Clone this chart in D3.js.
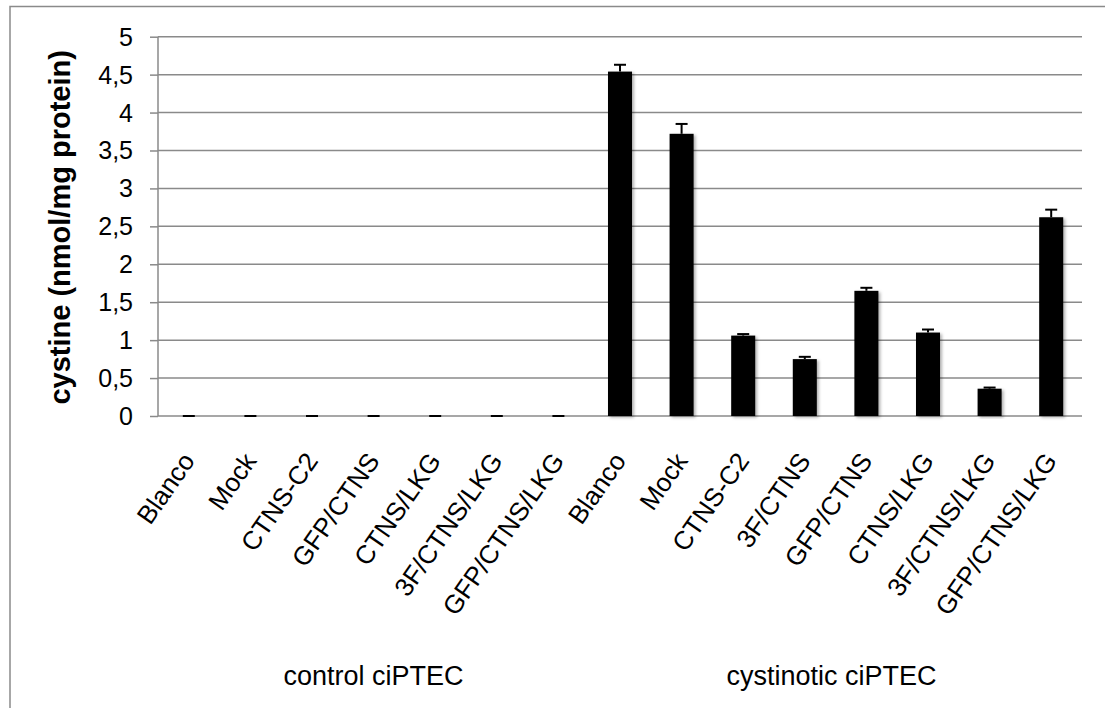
<!DOCTYPE html>
<html>
<head>
<meta charset="utf-8">
<script src="https://cdn.jsdelivr.net/npm/d3@7"></script>
<style>
  html, body { margin: 0; padding: 0; background: #fff; }
  svg { display: block; font-family: "Liberation Sans", Arial, sans-serif; }
</style>
</head>
<body>
<svg id="chart" width="1105" height="708"></svg>
<script>
// ---- data ----
const categories = ["Blanco", "Mock", "CTNS-C2", "GFP/CTNS", "CTNS/LKG", "3F/CTNS/LKG", "GFP/CTNS/LKG",
                    "Blanco", "Mock", "CTNS-C2", "3F/CTNS", "GFP/CTNS", "CTNS/LKG", "3F/CTNS/LKG", "GFP/CTNS/LKG"];
const values = [0, 0, 0, 0, 0, 0, 0,
                4.54, 3.72, 1.06, 0.75, 1.65, 1.10, 0.36, 2.62];
const errors = [0, 0, 0, 0, 0, 0, 0,
                0.09, 0.13, 0.02, 0.03, 0.04, 0.04, 0.015, 0.10];
const groupNames = ["control ciPTEC", "cystinotic ciPTEC"];
const groupSizes = [7, 8];
const yTicks = [0, 0.5, 1, 1.5, 2, 2.5, 3, 3.5, 4, 4.5, 5];
const yTitle = "cystine (nmol/mg protein)";

// ---- layout ----
const svg = d3.select("#chart");
const pLeft = 158, pRight = 1082, pTop = 36.7, pBottom = 416;
const gridColor = "#8a8a8a";

const ids = categories.map((c, i) => i);
const x = d3.scaleBand().domain(ids).range([pLeft, pRight]).paddingInner(0.61).paddingOuter(0.305);
const y = d3.scaleLinear().domain([0, 5]).range([pBottom, pTop]);

// drop shadow
const defs = svg.append("defs");
const f = defs.append("filter").attr("id", "sh").attr("x", "-20%").attr("y", "-5%").attr("width", "150%").attr("height", "115%");
f.append("feDropShadow").attr("dx", 2).attr("dy", 1.5).attr("stdDeviation", 1.4)
  .attr("flood-color", "#000").attr("flood-opacity", 0.3);

// outer border (runs off the right and bottom)
svg.append("rect").attr("x", 10).attr("y", 6.5).attr("width", 1200).attr("height", 800)
  .attr("fill", "none").attr("stroke", gridColor).attr("stroke-width", 1.5);

// gridlines + ticks
const yAxis = d3.axisLeft(y).tickValues(yTicks).tickSize(8).tickFormat(d => String(d).replace(".", ","));
const gy = svg.append("g").attr("transform", `translate(${pLeft},0)`).call(yAxis);
gy.select(".domain").attr("stroke", gridColor).attr("stroke-width", 1.5).attr("d", `M0,${pTop}V${pBottom}`);
gy.selectAll(".tick line").attr("stroke", gridColor).attr("stroke-width", 1.5);
gy.selectAll(".tick text").attr("x", -25).attr("font-size", 25).attr("fill", "#000")
  .attr("font-family", "Liberation Sans, Arial, sans-serif").attr("dy", "0.34em");

svg.append("g").selectAll("line").data(yTicks).join("line")
  .attr("x1", pLeft).attr("x2", pRight)
  .attr("y1", d => y(d)).attr("y2", d => y(d))
  .attr("stroke", gridColor).attr("stroke-width", 1.5);

// bars
svg.append("g").selectAll("rect").data(ids).join("rect")
  .attr("x", i => x(i)).attr("width", x.bandwidth())
  .attr("y", i => y(values[i])).attr("height", i => y(0) - y(values[i]))
  .attr("fill", "#000").attr("filter", "url(#sh)");

// error bars (upper)
const eg = svg.append("g").attr("stroke", "#000").attr("stroke-width", 2);
ids.forEach(i => {
  const cx = x(i) + x.bandwidth() / 2;
  const yt = y(values[i] + errors[i]);
  eg.append("line").attr("x1", cx).attr("x2", cx).attr("y1", y(values[i])).attr("y2", yt);
  eg.append("line").attr("x1", cx - 6).attr("x2", cx + 6).attr("y1", yt).attr("y2", yt);
});

// category labels
svg.append("g").selectAll("text").data(ids).join("text")
  .attr("transform", i => `translate(${x(i) + x.bandwidth() / 2 + 7},${pBottom + 45}) rotate(-55)`)
  .attr("text-anchor", "end").attr("font-size", 26).attr("fill", "#000")
  .text(i => categories[i]);

// group labels
let start = 0;
groupNames.forEach((g, k) => {
  const s = ids[start], e = ids[start + groupSizes[k] - 1];
  const cx = (x(s) - x.step() * x.paddingInner() / 2 + x(e) + x.bandwidth() + x.step() * x.paddingInner() / 2) / 2;
  svg.append("text").attr("x", cx - 4 * k).attr("y", 685).attr("text-anchor", "middle")
    .attr("font-size", 27).attr("fill", "#000").text(g);
  start += groupSizes[k];
});

// y title
svg.append("text").attr("transform", `translate(70,${(pTop + pBottom) / 2 + 1}) rotate(-90)`)
  .attr("text-anchor", "middle").attr("font-size", 29).attr("font-weight", "bold").attr("fill", "#000")
  .text(yTitle);
</script>
</body>
</html>
